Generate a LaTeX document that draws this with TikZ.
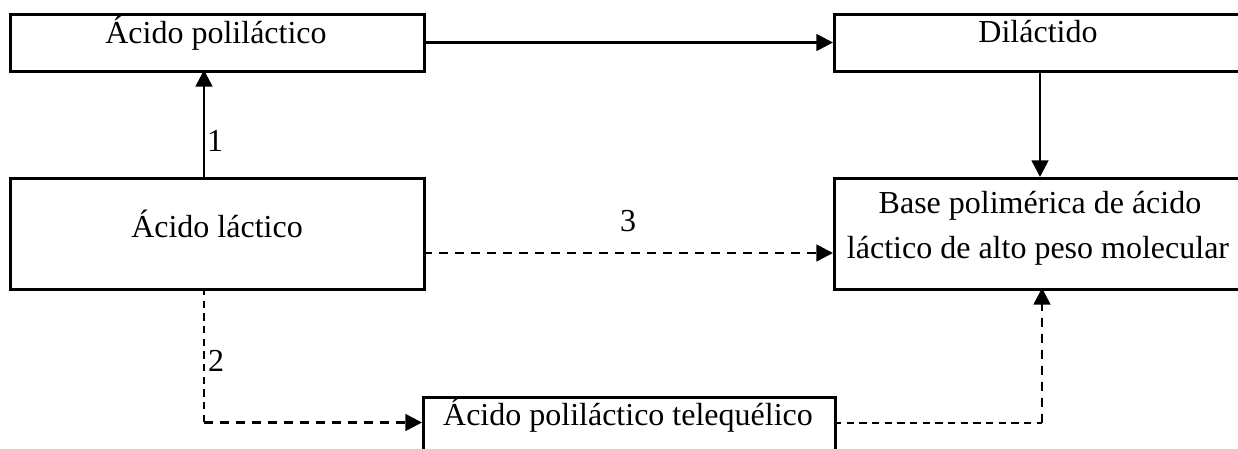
\documentclass[tikz,border=0pt]{standalone}
\usepackage{fontspec}
\setmainfont{Liberation Serif}
\usetikzlibrary{arrows.meta}
\begin{document}
\begin{tikzpicture}[x=0.75pt,y=-0.75pt,
  box/.style={draw=black,line width=2pt,rectangle,inner sep=0pt,anchor=north west},
  txt/.style={anchor=base,inner sep=0pt,font=\fontsize{24}{33.75}\selectfont},
  lbl/.style={inner sep=0pt,font=\fontsize{24}{28}\selectfont},
  tip/.style={-{Triangle[length=12.5pt,width=12.5pt]}},
  arr/.style={line width=2pt,tip},
  dsh/.style={line width=2pt,dash pattern=on 7pt off 5pt},
  dshthin/.style={line width=1.4pt,dash pattern=on 5.5pt off 4pt}]
\useasboundingbox (0,0) rectangle (1238,449);
\clip (0,0) rectangle (1238,449);
% boxes
\node[box,minimum width=414*0.75pt,minimum height=57*0.75pt] (pla) at (9,13) {};
\node[box,minimum width=414*0.75pt,minimum height=111*0.75pt] (lac) at (9,177) {};
\node[box,minimum width=412*0.75pt,minimum height=57*0.75pt] (dil) at (833,13) {};
\node[box,minimum width=412*0.75pt,minimum height=111*0.75pt] (bas) at (833,177) {};
\node[box,minimum width=412*0.75pt,minimum height=90*0.75pt] (tel) at (422,396) {};
% texts
\node[txt] (tpla) at (216,44) {Ácido poliláctico};
\node[txt] (tlac) at (217,237) {Ácido láctico};
\node[txt] (tdil) at (1038,43) {Diláctido};
\node[txt] (tbas1) at (1040,213) {Base polimérica de ácido};
\node[txt] (tbas2) at (1038,258) {láctico de alto peso molecular};
\node[txt] (ttel) at (628,425) {Ácido poliláctico telequélico};
% labels
\node[lbl] (l1) at (215,141) {1};
\node[lbl] (l2) at (216,361) {2};
\node[lbl] (l3) at (628,221) {3};
% coordinates
\coordinate (a1s) at (204,177);
\coordinate (a1e) at (204,70);
\coordinate (a2s) at (423,42.5);
\coordinate (a2e) at (833,42.5);
\coordinate (a3s) at (1040,70);
\coordinate (a3e) at (1040,177);
\coordinate (a4s) at (423,253);
\coordinate (a4e) at (833,253);
\coordinate (a5s) at (204,288);
\coordinate (a5c) at (204,422.5);
\coordinate (a5e) at (422,422.5);
\coordinate (a6s) at (834,423);
\coordinate (a6c) at (1042,423);
\coordinate (a6e) at (1042,288);
% connectors
\draw[arr] (a1s) -- (a1e);
\draw[arr] (a2s) -- (a2e);
\draw[arr] (a3s) -- (a3e);
\draw[dsh,tip] (a4s) -- (a4e);
\draw[dshthin] (a5s) -- (a5c);
\draw[dsh,tip] (a5c) -- (a5e);
\draw[dshthin] (a6s) -- (a6c);
\draw[dsh,tip] (a6c) -- (a6e);
\end{tikzpicture}
\end{document}
